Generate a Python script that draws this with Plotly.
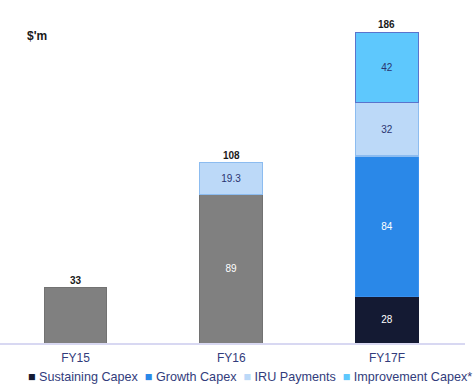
import plotly.graph_objects as go

categories = ["FY15", "FY16", "FY17F"]
base_capex = [33, 89, None]
sustaining = [None, None, 28]
growth = [None, None, 84]
iru = [None, 19.3, 32]
improvement = [None, None, 42]
totals = [33, 108, 186]
total_labels = ["33", "108", "186"]
legend_names = ["Sustaining Capex", "Growth Capex", "IRU Payments", "Improvement Capex*"]
legend_colors = ["#141a33", "#2a88e8", "#bcd9f8", "#5ec8fd"]

font_family = "Liberation Sans, Arial, sans-serif"
text_col = "#323c7c"

fig = go.Figure()

def lbl(vals, skip=()):
    return ["" if (v is None or i in skip) else str(v) for i, v in enumerate(vals)]

fig.add_trace(go.Bar(x=categories, y=base_capex, name="Capex", showlegend=False,
                     marker=dict(color="#808080", line=dict(color="#727272", width=1)),
                     text=lbl(base_capex, skip=(0,)), textposition="inside", insidetextanchor="middle",
                     textfont=dict(color="white", size=10, family=font_family)))
fig.add_trace(go.Bar(x=categories, y=sustaining, name=legend_names[0],
                     marker=dict(color=legend_colors[0], line=dict(color="#141a33", width=1)),
                     text=lbl(sustaining), textposition="inside", insidetextanchor="middle",
                     textfont=dict(color="white", size=10, family=font_family)))
fig.add_trace(go.Bar(x=categories, y=growth, name=legend_names[1],
                     marker=dict(color=legend_colors[1], line=dict(color="#3a90ee", width=1)),
                     text=lbl(growth), textposition="inside", insidetextanchor="middle",
                     textfont=dict(color="white", size=10, family=font_family)))
fig.add_trace(go.Bar(x=categories, y=iru, name=legend_names[2],
                     marker=dict(color=legend_colors[2], line=dict(color="#8cbcf0", width=1.2)),
                     text=lbl(iru), textposition="inside", insidetextanchor="middle",
                     textfont=dict(color="#2a3470", size=10, family=font_family)))
fig.add_trace(go.Bar(x=categories, y=improvement, name=legend_names[3],
                     marker=dict(color=legend_colors[3], line=dict(color="#5a74cc", width=1.5)),
                     text=lbl(improvement), textposition="inside", insidetextanchor="middle",
                     textfont=dict(color="#2a3470", size=10, family=font_family)))

for c, t, l in zip(categories, totals, total_labels):
    fig.add_annotation(x=c, y=t, text="<b>" + l + "</b>", showarrow=False,
                       yanchor="bottom", yshift=0,
                       font=dict(size=10, color="#1a1a1a", family=font_family))

fig.add_annotation(xref="paper", yref="paper", x=0.054, y=0.919, text="<b>$'m</b>",
                   showarrow=False, xanchor="left", yanchor="middle",
                   font=dict(size=12, color="#1a1a1a", family=font_family))

legend_text = "&nbsp;&nbsp;".join(
    "<span style='color:%s'>■</span>&nbsp;%s" % (col, name)
    for col, name in zip(legend_colors, legend_names)
)
fig.add_annotation(xref="paper", yref="paper", x=0.537, y=-0.102, text=legend_text,
                   showarrow=False, xanchor="center", yanchor="middle",
                   font=dict(size=12.6, color=text_col, family=font_family))

fig.update_layout(
    barmode="stack",
    bargap=0.596,
    width=473, height=389,
    margin=dict(l=0, r=8, t=9, b=46),
    plot_bgcolor="white", paper_bgcolor="white",
    font=dict(family=font_family, color=text_col, size=12),
    showlegend=False,
)
fig.update_xaxes(range=[-0.485, 2.501], showline=True, linecolor="#d8d8f2", linewidth=2,
                 ticks="", tickfont=dict(size=12, color=text_col), showgrid=False,
                 ticklabelstandoff=3, automargin=False)
fig.update_yaxes(range=[0, 200], visible=False, showgrid=False, zeroline=False)

fig.write_html("out.html", config={"displayModeBar": False},
               post_script="document.body.style.margin='0';document.body.style.overflow='hidden';")
